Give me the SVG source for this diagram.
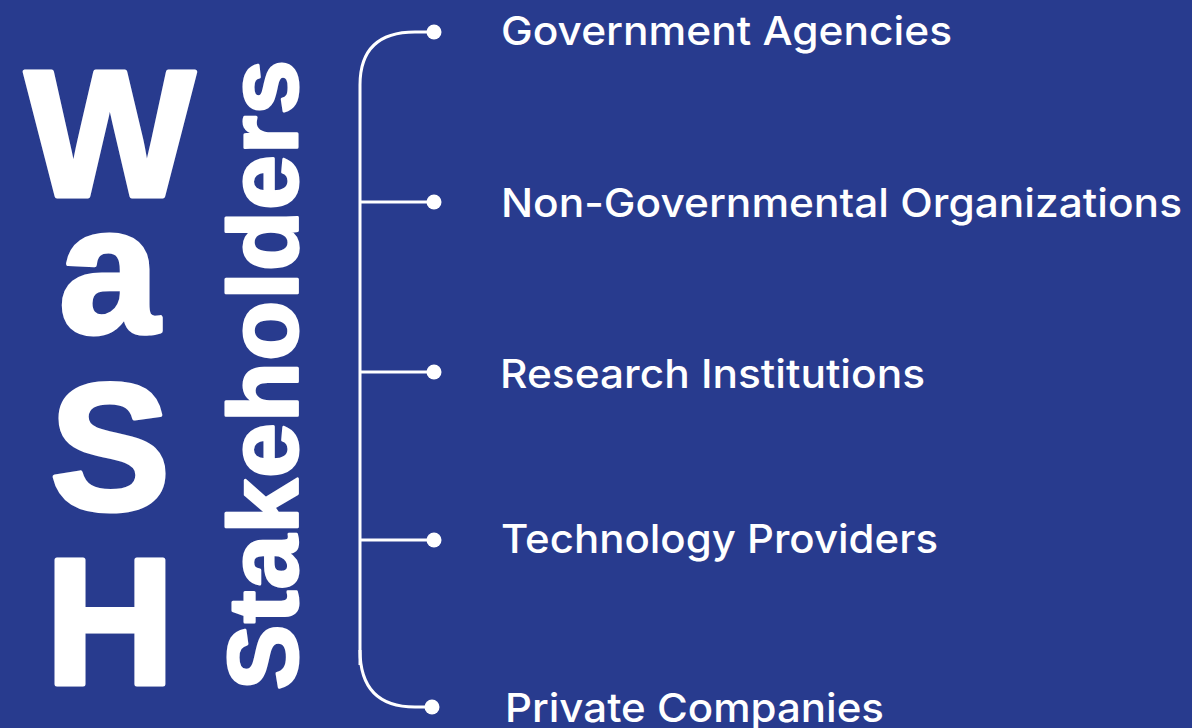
<svg xmlns="http://www.w3.org/2000/svg" width="1192" height="728" viewBox="0 0 1192 728">
<style>
.big{font-family:"Liberation Sans",Arial,sans-serif;font-weight:bold;font-size:180px;fill:#fff;stroke:#fff;stroke-width:5;stroke-linejoin:round;text-anchor:middle}
.vert{font-family:"Liberation Sans",Arial,sans-serif;font-weight:bold;font-size:98px;fill:#fff;stroke:#fff;stroke-width:3;stroke-linejoin:round;text-anchor:middle}
.lbl{font-family:Inter,"Liberation Sans",sans-serif;font-weight:500;font-size:40px;fill:#fff}
.ln{fill:none;stroke:#fff;stroke-width:3}
.dot{fill:#fff}
</style>
<rect width="1192" height="728" fill="#283B8E"/>
<g id="title">
<text class="big" x="110" y="196">W</text>
<text class="big" x="109" y="332">a</text>
<text class="big" x="110" y="509">S</text>
<text class="big" x="110" y="684">H</text>
<text class="vert" transform="translate(297,375) rotate(-90)" textLength="630">Stakeholders</text>
</g>
<g id="connectors">
<path class="ln" d="M360,665 V85 Q360,32 415,32 H434"/>
<path class="ln" d="M360,650 Q360,707 415,707 H432"/>
<path class="ln" d="M360,202 H434"/>
<path class="ln" d="M360,372 H434"/>
<path class="ln" d="M360,540 H434"/>
<circle class="dot" cx="434" cy="32" r="7.5"/>
<circle class="dot" cx="434" cy="202" r="7.5"/>
<circle class="dot" cx="434" cy="372" r="7.5"/>
<circle class="dot" cx="434" cy="540" r="7.5"/>
<circle class="dot" cx="432" cy="707" r="7.5"/>
</g>
<g id="n1"><text class="lbl" x="501" y="45" textLength="451" lengthAdjust="spacingAndGlyphs">Government Agencies</text></g>
<g id="n2"><text class="lbl" x="501" y="217" textLength="681" lengthAdjust="spacingAndGlyphs">Non-Governmental Organizations</text></g>
<g id="n3"><text class="lbl" x="500" y="388" textLength="425" lengthAdjust="spacingAndGlyphs">Research Institutions</text></g>
<g id="n4"><text class="lbl" x="501" y="553" textLength="437" lengthAdjust="spacingAndGlyphs">Technology Providers</text></g>
<g id="n5"><text class="lbl" x="505" y="722" textLength="379" lengthAdjust="spacingAndGlyphs">Private Companies</text></g>
</svg>
